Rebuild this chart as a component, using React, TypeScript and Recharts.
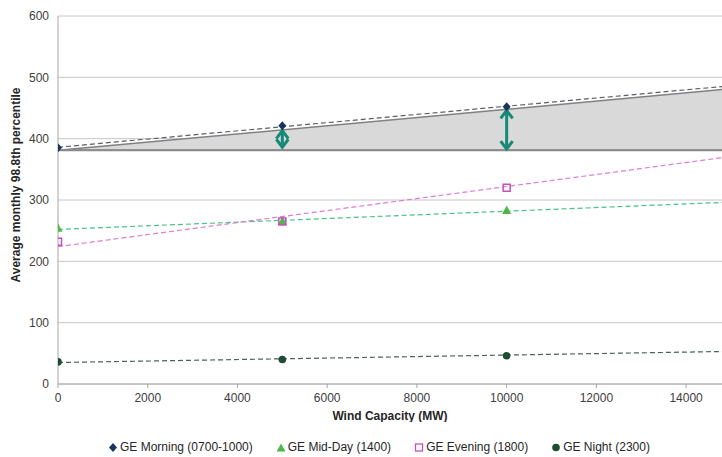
import React from "react"
import {
  ComposedChart,
  XAxis,
  YAxis,
  CartesianGrid,
  Line,
  Area,
  Scatter,
  ReferenceLine,
} from "recharts"

// wind capacity (MW) of the study cases
const capacities = [0, 5000, 10000]
const xTicks = [0, 2000, 4000, 6000, 8000, 10000, 12000, 14000]
const yTicks = [0, 100, 200, 300, 400, 500, 600]
const xMax = 14800

// average monthly 98.8th percentile per case
const morning = [385, 421, 452]
const midDay = [254, 265, 283]
const evening = [232, 265, 320]
const night = [36, 40, 46]

// dashed trend lines, read at x = 0 and at the right edge
const trendX = [0, xMax]
const morningTrend = [386, 485]
const midDayTrend = [252, 296]
const eveningTrend = [224, 369]
const nightTrend = [35, 53]

// shaded band over the 0 MW level
const bandBase = 381
const bandTop = [381, 480]

// double-headed arrows
const arrowX = [5000, 10000]
const arrowLow = [386, 383]
const arrowHigh = [413, 446]

const FONT = "'Liberation Sans', Arial, sans-serif"
const TEAL = "#168a76"

const pts = (ys: number[]) => capacities.map((x, i) => ({ x, y: ys[i] }))
const trend = (ys: number[]) => trendX.map((x, i) => ({ x, y: ys[i] }))
const bandData = trendX.map((x, i) => ({ x, range: [bandBase, bandTop[i]] }))

const Diamond = ({ cx, cy }: any) => (
  <polygon points={`${cx},${cy - 4.5} ${cx + 4},${cy} ${cx},${cy + 4.5} ${cx - 4},${cy}`} fill="#17365d" />
)
const Triangle = ({ cx, cy }: any) => (
  <polygon points={`${cx},${cy - 5} ${cx + 4.5},${cy + 3.5} ${cx - 4.5},${cy + 3.5}`} fill="#4db848" />
)
const Square = ({ cx, cy }: any) => (
  <rect x={cx - 3.5} y={cy - 3.5} width={7} height={7} fill="none" stroke="#c64fbf" strokeWidth={1.5} />
)
const Dot = ({ cx, cy }: any) => <circle cx={cx} cy={cy} r={3.8} fill="#1d4d33" />

const ArrowHead = ({ cx, cy, index }: any) => {
  const d = index === 0 ? -1 : 1 // 0 = bottom end, points down
  return (
    <polyline
      key={index}
      points={`${cx - 6},${cy + d * 8} ${cx},${cy} ${cx + 6},${cy + d * 8}`}
      fill="none"
      stroke={TEAL}
      strokeWidth={3}
      strokeLinejoin="miter"
    />
  )
}

const legendItems = [
  { name: "GE Morning (0700-1000)", icon: <polygon points="5,1 9,5.5 5,10 1,5.5" fill="#17365d" /> },
  { name: "GE Mid-Day (1400)", icon: <polygon points="5,1.5 9.5,9.5 0.5,9.5" fill="#4db848" /> },
  { name: "GE Evening (1800)", icon: <rect x={1.5} y={2} width={7} height={7} fill="none" stroke="#c64fbf" strokeWidth={1.3} /> },
  { name: "GE Night (2300)", icon: <circle cx={5} cy={5.5} r={3.8} fill="#1d4d33" /> },
]

export default function App() {
  return (
    <div style={{ position: "absolute", left: 0, top: 0, width: 722, height: 457, fontFamily: FONT, overflow: "hidden" }}>
      <ComposedChart width={722} height={422} margin={{ top: 16, right: 0, bottom: 0, left: 0 }}>
        <CartesianGrid vertical={false} stroke="#c6c6c6" />
        <XAxis
          type="number"
          dataKey="x"
          domain={[0, xMax]}
          ticks={xTicks}
          allowDataOverflow
          height={38}
          tickSize={4}
          tickMargin={5}
          tick={{ fill: "#404040", fontSize: 12, fontFamily: FONT }}
          stroke="#a6a6a6"
          label={{
            value: "Wind Capacity (MW)",
            position: "insideBottom",
            offset: 2,
            style: { fill: "#262626", fontSize: 12, fontWeight: 700, fontFamily: FONT },
          }}
        />
        <YAxis
          type="number"
          domain={[0, 600]}
          ticks={yTicks}
          width={58}
          tickSize={5}
          tickMargin={4}
          tickLine={false}
          tick={{ fill: "#404040", fontSize: 12, fontFamily: FONT }}
          stroke="#a6a6a6"
        />
        <Area
          data={bandData}
          dataKey="range"
          type="linear"
          fill="#d9d9d9"
          fillOpacity={1}
          stroke="#808080"
          strokeWidth={1.5}
          isAnimationActive={false}
        />
        <ReferenceLine y={bandBase} stroke="#8a8a8a" strokeWidth={2} />
        <Line data={trend(morningTrend)} dataKey="y" stroke="#5a6068" strokeWidth={1.2} strokeDasharray="5 3" dot={false} isAnimationActive={false} />
        <Line data={trend(midDayTrend)} dataKey="y" stroke="#4cc08c" strokeWidth={1.2} strokeDasharray="5 3" dot={false} isAnimationActive={false} />
        <Line data={trend(eveningTrend)} dataKey="y" stroke="#e07ad6" strokeWidth={1.2} strokeDasharray="5 3" dot={false} isAnimationActive={false} />
        <Line data={trend(nightTrend)} dataKey="y" stroke="#4a6456" strokeWidth={1.2} strokeDasharray="5 3" dot={false} isAnimationActive={false} />
        {arrowX.map((x, i) => (
          <Line
            key={x}
            data={[
              { x, y: arrowLow[i] },
              { x, y: arrowHigh[i] },
            ]}
            dataKey="y"
            stroke={TEAL}
            strokeWidth={3}
            dot={<ArrowHead />}
            isAnimationActive={false}
          />
        ))}
        <Scatter data={pts(morning)} dataKey="y" shape={<Diamond />} isAnimationActive={false} />
        <Scatter data={pts(midDay)} dataKey="y" shape={<Triangle />} isAnimationActive={false} />
        <Scatter data={pts(evening)} dataKey="y" shape={<Square />} isAnimationActive={false} />
        <Scatter data={pts(night)} dataKey="y" shape={<Dot />} isAnimationActive={false} />
      </ComposedChart>
      <svg style={{ position: "absolute", left: 0, top: 0, overflow: "visible" }} width={40} height={400}>
        <text
          transform="translate(20,185) rotate(-90)"
          textAnchor="middle"
          fill="#262626"
          fontSize={12}
          fontWeight={700}
          fontFamily={FONT}
        >
          Average monthly 98.8th percentile
        </text>
      </svg>
      <div
        style={{
          position: "absolute",
          left: 108,
          top: 440,
          display: "flex",
          gap: 23,
          fontSize: 12,
          color: "#262626",
          whiteSpace: "nowrap",
        }}
      >
        {legendItems.map((it) => (
          <div key={it.name} style={{ display: "flex", alignItems: "center", gap: 2 }}>
            <svg width={10} height={11}>{it.icon}</svg>
            <span>{it.name}</span>
          </div>
        ))}
      </div>
    </div>
  )
}
